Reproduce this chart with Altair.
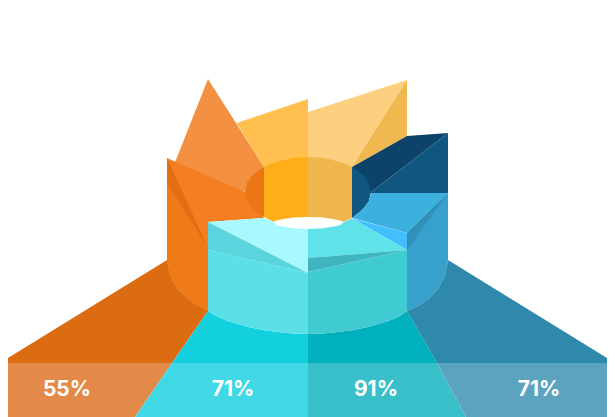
import altair as alt
import pandas as pd

# Curved edges, in picture pixel units
# outer cylinder, lower edge, left half (167 -> 308) and right half (308 -> 448)
RIM_L_X = [167, 170, 173, 178, 183, 188, 198, 208, 218, 228, 238, 248, 263, 278, 293, 308]
RIM_L_Y = [260, 275, 281, 289, 294, 299, 306, 311, 317, 321, 324, 327, 330, 332, 333.6, 334]
RIM_R_X = [308, 323, 338, 353, 368, 378, 388, 398, 407, 418, 428, 433, 438, 442, 445, 448]
RIM_R_Y = [334, 333.6, 332, 330, 327, 324, 321, 317, 311, 306, 299, 294, 289, 281, 275, 260]
FILL_LOWER = ["#EE7A18", "#38A0CC"]

# (fill, x values, y values)
SPIKE_LEFT = ("#F39041", [208, 172, 246, 264], [79, 170, 192, 167])
PANEL_YELLOW = ("#FFC04F", [236.5, 308, 308, 264], [123, 99, 170, 167])
PANEL_PALE = ("#FDD080", [308, 407, 352, 308], [112, 80, 167, 170])
PANEL_TAN = ("#F0B950", [407, 407, 352], [80, 136, 167])
PANEL_NAVY = ("#0D4368", [352, 407, 448, 370], [167, 136, 133, 193])
PANEL_BLUE = ("#0F5781", [448, 448, 370], [133, 193, 193])
INNER_AMBER = ("#FFAE1A", [264, 270, 283, 295, 308, 308, 274, 264],
               [167, 164, 160, 157.8, 157, 225, 222, 217])
INNER_TAN = ("#F0B64E", [308, 321, 333, 346, 352, 352, 343, 308],
             [157, 157.8, 160, 164, 167, 218, 222, 225])
WALL_ORANGE = ("#F57F20", [167, 245, 264, 208, 208] + RIM_L_X[6::-1],
               [158, 192, 218, 222, 312] + RIM_L_Y[6::-1])
INNER_ORANGE = ("#EC7515", [264, 257, 252, 247, 245, 247, 252, 257, 264],
                [167, 171.5, 176, 183, 192, 201, 208, 212.5, 217])
INNER_BLUE = ("#0F5781", [352, 359, 364, 369, 371, 369, 364, 359, 352],
              [167, 171.5, 176, 183, 192, 201, 208, 212.5, 218])
FACE_SKY = ("#3CB1E0", [352, 359, 364, 369, 371, 448, 407], [218, 212.5, 208, 201, 193, 193, 233])
WALL_LOWER = (FILL_LOWER[0], [167, 208, 208] + RIM_L_X[6::-1], [183, 248, 312] + RIM_L_Y[6::-1])
WEDGE_ORANGE = ("#E06F14", [167, 208, 167], [158, 248, 183])
WALL_BLUE = (FILL_LOWER[1], [448, 407] + RIM_R_X[8:], [193, 233] + RIM_R_Y[8:])
WEDGE_BLUE = ("#3090B8", [448, 407, 407], [193, 233, 250])
TRI_BRIGHT = ("#42BFFF", [352, 407, 407], [218.5, 233, 250])
FLOOR_ORANGE = ("#DC6C12", [0, 172, 208] + RIM_L_X[6::-1], [363, 363, 311] + RIM_L_Y[6::-1])
FLOOR_CYAN = ("#12D0DE", [172, 308] + RIM_L_X[:6:-1], [363, 363] + RIM_L_Y[:6:-1])
FLOOR_TEAL = ("#00B0BC", [437, 308] + RIM_R_X[:9], [363, 363] + RIM_R_Y[:9])
FLOOR_BLUE = ("#2E89AD", [437, 615] + RIM_R_X[:7:-1], [363, 363] + RIM_R_Y[:7:-1])
BAND_ORANGE = ("#E38A48", [0, 172, 135, 0], [363, 363, 417, 417])
BAND_CYAN = ("#40D8E5", [172, 308, 308, 135], [363, 363, 417, 417])
BAND_TEAL = ("#38BFC9", [308, 437, 466, 308], [363, 363, 417, 417])
BAND_BLUE = ("#5BA3BF", [437, 615, 615, 466], [363, 363, 417, 417])
HOLE = ("#FFFFFF", [272, 276, 282, 293, 308, 323, 334, 340, 344, 340, 334, 323, 308, 293, 282, 276],
        [223, 220.6, 219.2, 217.6, 217, 217.6, 219.2, 220.6, 222, 225.2, 226.6, 228.2, 229, 228.2, 226.6, 225.2])
TOP_PALE = ("#A8F9FF", [208, 264, 274, 276, 282, 293, 308, 308],
            [222, 218, 222, 225.2, 226.6, 228.2, 229, 273])
TOP_CYAN = ("#5FE3E8", [308, 323, 334, 340, 344, 352, 407, 308],
            [229, 228.2, 226.6, 225.2, 222, 218.5, 250, 258])
FACE_LEFT = ("#5CE0E8", [308, 208] + RIM_L_X[7:], [273, 250] + RIM_L_Y[7:])
FACE_RIGHT = ("#40CBD2", [407, 308] + RIM_R_X[:9], [250, 272] + RIM_R_Y[:9])
STRIP_LEFT = ("#5AD5DE", [208, 308, 208], [222, 273, 250])
STRIP_RIGHT = ("#3FB5C0", [308, 407, 308], [258, 250, 272])

SHAPES = [
    SPIKE_LEFT, PANEL_YELLOW, PANEL_PALE, PANEL_TAN, PANEL_NAVY, PANEL_BLUE,
    INNER_AMBER, INNER_TAN, WALL_ORANGE, INNER_ORANGE, INNER_BLUE, FACE_SKY,
    WALL_LOWER, WEDGE_ORANGE, WALL_BLUE, WEDGE_BLUE, TRI_BRIGHT,
    FLOOR_ORANGE, FLOOR_CYAN, FLOOR_TEAL, FLOOR_BLUE,
    BAND_ORANGE, BAND_CYAN, BAND_TEAL, BAND_BLUE,
    HOLE, TOP_PALE, TOP_CYAN, FACE_LEFT, FACE_RIGHT, STRIP_LEFT, STRIP_RIGHT,
]

LABELS = ["55%", "71%", "91%", "71%"]
LABEL_X = [67, 233, 376, 539]
LABEL_Y = [389.5, 389.5, 389.5, 389.5]

x_enc = alt.X("x:Q", axis=None, scale=alt.Scale(domain=[8, 607], nice=False, zero=False))
y_enc = alt.Y("y:Q", axis=None, scale=alt.Scale(domain=[417, 8], nice=False, zero=False))

layers = []
for fill, xs, ys in SHAPES:
    df = pd.DataFrame({"x": xs, "y": ys, "i": range(len(xs))})
    layers.append(
        alt.Chart(df)
        .mark_line(fill=fill, strokeWidth=0, interpolate="linear-closed", clip=True)
        .encode(x=x_enc, y=y_enc, order="i:Q")
    )

labels = pd.DataFrame({"x": LABEL_X, "y": LABEL_Y, "t": LABELS})
layers.append(
    alt.Chart(labels)
    .mark_text(font="Inter", fontSize=21, fontWeight=700, color="#FFFFFF", align="center", baseline="middle")
    .encode(x=x_enc, y=y_enc, text="t:N")
)

chart = alt.layer(*layers).properties(
    width=599, height=409, padding=0, autosize=alt.AutoSizeParams(type="none"), background="#FFFFFF"
).configure_view(stroke=None)

chart.save("out.html", embed_options={"renderer": "svg", "actions": False})
